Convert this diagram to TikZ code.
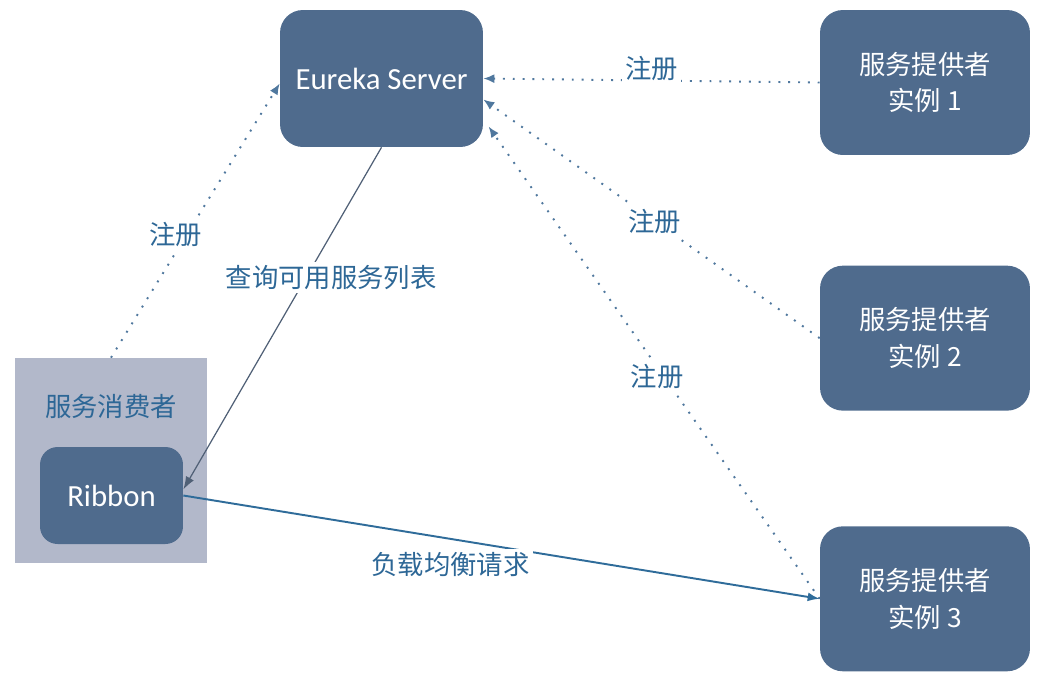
\documentclass[tikz,border=0pt]{standalone}
\usepackage{fontspec}
\setmainfont{Carlito}
\newfontfamily\cjk{Noto Sans CJK SC}
\usetikzlibrary{arrows.meta,positioning}

\definecolor{boxblue}{RGB}{79,107,141}
\definecolor{groupgray}{RGB}{178,184,202}
\definecolor{labelblue}{RGB}{45,103,150}
\definecolor{dotblue}{RGB}{80,120,158}
\definecolor{reqblue}{RGB}{47,108,154}
\definecolor{querygray}{RGB}{80,96,118}

\begin{document}
\begin{tikzpicture}[
    x=0.02cm, y=-0.02cm,
    every node/.style={font=\fontsize{17.5}{21}\selectfont,align=center},
    box/.style={fill=boxblue,text=white,rounded corners=13pt,minimum width=4.2cm,minimum height=2.9cm,inner sep=2pt},
    cjkbox/.style={box,font=\cjk\fontsize{15}{21}\selectfont},
    group/.style={fill=groupgray,minimum width=3.84cm,minimum height=4.1cm,inner sep=0pt},
    lbl/.style={text=labelblue,font=\cjk\fontsize{15}{21}\selectfont,fill=white,inner sep=2pt},
    reg/.style={dotblue,line width=1.1pt,dash pattern=on 1.1pt off 4.5pt,-{Latex[length=2.2mm,width=1.8mm]}},
    query/.style={querygray,line width=0.7pt,-{Latex[length=2.6mm,width=1.8mm]}},
    req/.style={reqblue,line width=1.1pt,-{Latex[length=2.4mm,width=1.8mm]}}
]
\useasboundingbox (0,0) rectangle (1055,681);

\node[box,minimum width=4.06cm,minimum height=2.74cm] (eureka) at (381.5,78.5) {Eureka Server};
\node[cjkbox] (p1) at (925,82.5) {服务提供者\\实例 1};
\node[cjkbox,below=2.2cm of p1] (p2) {服务提供者\\实例 2};
\node[cjkbox,below=2.3cm of p2] (p3) {服务提供者\\实例 3};

\node[group] (consumer) at (111,460.5) {};
\node[lbl,fill=none] (ctitle) at (111,406) {服务消费者};
\node[box,minimum width=2.86cm,minimum height=1.94cm,rounded corners=10pt] (ribbon) at (111.5,495.5) {Ribbon};

\draw[reg] (p1.west) -- (eureka.east) node[lbl,pos=0.5,yshift=0.24cm] {注册};
\draw[reg] (p2.west) -- ([yshift=-0.42cm]eureka.east) node[lbl,pos=0.49] {注册};
\draw[reg] (p3.west) -- ([xshift=3pt,yshift=-0.96cm]eureka.east) node[lbl,pos=0.47,xshift=-0.14cm] {注册};
\draw[reg] (consumer.north) -- ([yshift=-0.1cm]eureka.west) node[lbl,pos=0.45,xshift=-0.22cm] {注册};
\draw[query] (eureka.south) -- ([yshift=0.12cm]ribbon.east) node[lbl,pos=0.38,xshift=0.5cm] {查询可用服务列表};
\draw[req] (ribbon.east) -- (p3.west) node[lbl,pos=0.42,yshift=-0.52cm] {负载均衡请求};
\end{tikzpicture}
\end{document}
